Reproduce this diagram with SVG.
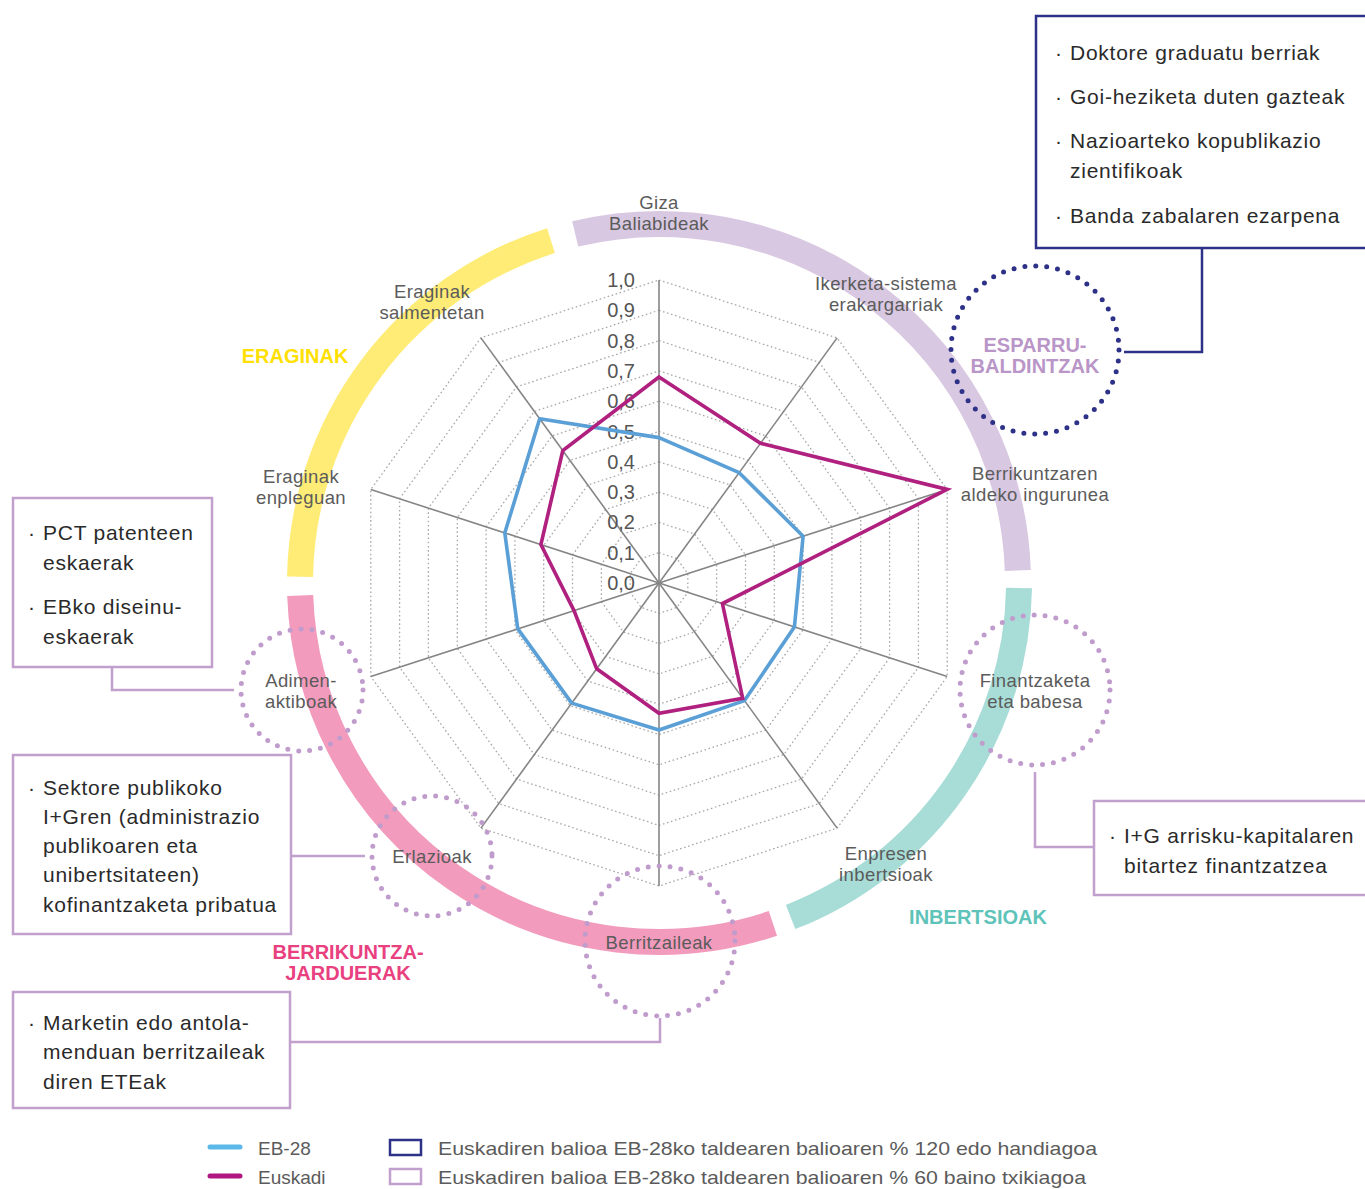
<svg xmlns="http://www.w3.org/2000/svg" width="1365" height="1189" viewBox="0 0 1365 1189">
<style>
.grid{fill:none;stroke:#a8a8a8;stroke-width:1.3;stroke-dasharray:1.6 2.6}
.axis{stroke:#858585;stroke-width:1.6}
.ring{fill:none;stroke-width:26}
.lbl{font-family:"Liberation Sans",Arial,sans-serif;font-size:18.5px;fill:#5b5b5b;text-anchor:middle;letter-spacing:0.4px}
.num{font-family:"Liberation Sans",Arial,sans-serif;font-size:20px;fill:#555;text-anchor:end}
.cat{font-family:"Liberation Sans",Arial,sans-serif;font-size:20px;font-weight:bold;text-anchor:middle}
.box{font-family:"Liberation Sans",Arial,sans-serif;font-size:21px;fill:#2a2a2a;letter-spacing:0.75px}
.leg{font-family:"Liberation Sans",Arial,sans-serif;font-size:19px;fill:#5b5b5b}
.pbox{fill:#fff;stroke:#c1a0cd;stroke-width:2.5}
.bbox{fill:#fff;stroke:#2e3188;stroke-width:2.5}
.pcon{fill:none;stroke:#c1a0cd;stroke-width:2.5}
.bcon{fill:none;stroke:#2e3188;stroke-width:2.5}
.pdots{fill:none;stroke:#c09ccd;stroke-width:5;stroke-linecap:round;stroke-dasharray:0 11}
.bdots{fill:none;stroke:#2e3188;stroke-width:5;stroke-linecap:round;stroke-dasharray:0 11}
</style>

<g id="rings">
<path class="ring" stroke="#ffec76" d="M300.05,576.7 A359,359 0 0 1 551,240.6"/>
<path class="ring" stroke="#d9c8e1" d="M575.2,233.9 A359,359 0 0 1 1017.8,570.5"/>
<path class="ring" stroke="#a8ddd7" d="M1019,588 A359,359 0 0 1 790.6,917"/>
<path class="ring" stroke="#f29bbd" d="M772.9,923.4 A359,359 0 0 1 300.2,595.5"/>
</g>

<g id="radar-grid">
<polygon class="grid" points="659,552.7 676.8,558.5 687.8,573.6 687.8,592.4 676.8,607.5 659,613.3 641.2,607.5 630.2,592.4 630.2,573.6 641.2,558.5"/>
<polygon class="grid" points="659,522.4 694.6,534 716.6,564.3 716.6,601.7 694.6,632 659,643.6 623.4,632 601.4,601.7 601.4,564.3 623.4,534"/>
<polygon class="grid" points="659,492.1 712.4,509.5 745.5,554.9 745.5,611.1 712.4,656.5 659,673.9 605.6,656.5 572.5,611.1 572.5,554.9 605.6,509.5"/>
<polygon class="grid" points="659,461.8 730.2,485 774.3,545.5 774.3,620.5 730.2,681 659,704.2 587.8,681 543.7,620.5 543.7,545.5 587.8,485"/>
<polygon class="grid" points="659,431.5 748,460.4 803.1,536.2 803.1,629.8 748,705.6 659,734.5 570,705.6 514.9,629.8 514.9,536.2 570,460.4"/>
<polygon class="grid" points="659,401.2 765.9,435.9 831.9,526.8 831.9,639.2 765.9,730.1 659,764.8 552.1,730.1 486.1,639.2 486.1,526.8 552.1,435.9"/>
<polygon class="grid" points="659,370.9 783.7,411.4 860.7,517.5 860.7,648.5 783.7,754.6 659,795.1 534.3,754.6 457.3,648.5 457.3,517.5 534.3,411.4"/>
<polygon class="grid" points="659,340.6 801.5,386.9 889.6,508.1 889.6,657.9 801.5,779.1 659,825.4 516.5,779.1 428.4,657.9 428.4,508.1 516.5,386.9"/>
<polygon class="grid" points="659,310.3 819.3,362.4 918.4,498.7 918.4,667.3 819.3,803.6 659,855.7 498.7,803.6 399.6,667.3 399.6,498.7 498.7,362.4"/>
<polygon class="grid" points="659,280 837.1,337.9 947.2,489.4 947.2,676.6 837.1,828.1 659,886 480.9,828.1 370.8,676.6 370.8,489.4 480.9,337.9"/>
<g class="axis">
<line x1="659" y1="583" x2="659" y2="280"/>
<line x1="659" y1="583" x2="837.1" y2="337.9"/>
<line x1="659" y1="583" x2="947.2" y2="489.4"/>
<line x1="659" y1="583" x2="947.2" y2="676.6"/>
<line x1="659" y1="583" x2="837.1" y2="828.1"/>
<line x1="659" y1="583" x2="659" y2="886"/>
<line x1="659" y1="583" x2="480.9" y2="828.1"/>
<line x1="659" y1="583" x2="370.8" y2="676.6"/>
<line x1="659" y1="583" x2="370.8" y2="489.4"/>
<line x1="659" y1="583" x2="480.9" y2="337.9"/>
</g>
<g id="scale">
<text class="num" x="635" y="287">1,0</text>
<text class="num" x="635" y="317.3">0,9</text>
<text class="num" x="635" y="347.6">0,8</text>
<text class="num" x="635" y="377.9">0,7</text>
<text class="num" x="635" y="408.2">0,6</text>
<text class="num" x="635" y="438.5">0,5</text>
<text class="num" x="635" y="468.8">0,4</text>
<text class="num" x="635" y="499.1">0,3</text>
<text class="num" x="635" y="529.4">0,2</text>
<text class="num" x="635" y="559.7">0,1</text>
<text class="num" x="635" y="590">0,0</text>
</g>
</g>

<g id="series">
<polygon id="eb28" fill="none" stroke="#5a9fd6" stroke-width="3.6" stroke-linejoin="round" points="659,437.6 739.2,472.7 803.1,536.2 794.4,627 744.5,700.6 659,730 571.7,703.1 517.8,628.9 504.8,532.9 539.7,418.8"/>
<polygon id="euskadi" fill="none" stroke="#b0207f" stroke-width="3.6" stroke-linejoin="miter" points="659,377 760.5,443.3 947.2,489.4 722.4,603.6 742.7,698.2 659,713.3 596.7,668.8 574,610.6 540.9,544.6 562.8,450.6"/>
</g>

<g id="axis-labels">
<text class="lbl" x="659" y="209">Giza</text>
<text class="lbl" x="659" y="230">Baliabideak</text>
<text class="lbl" x="886" y="290">Ikerketa-sistema</text>
<text class="lbl" x="886" y="311">erakargarriak</text>
<text class="lbl" x="1035" y="480">Berrikuntzaren</text>
<text class="lbl" x="1035" y="501">aldeko ingurunea</text>
<text class="lbl" x="1035" y="687">Finantzaketa</text>
<text class="lbl" x="1035" y="708">eta babesa</text>
<text class="lbl" x="886" y="860">Enpresen</text>
<text class="lbl" x="886" y="881">inbertsioak</text>
<text class="lbl" x="659" y="949">Berritzaileak</text>
<text class="lbl" x="432" y="863">Erlazioak</text>
<text class="lbl" x="301" y="687">Adimen-</text>
<text class="lbl" x="301" y="708">aktiboak</text>
<text class="lbl" x="301" y="483">Eraginak</text>
<text class="lbl" x="301" y="504">enpleguan</text>
<text class="lbl" x="432" y="298">Eraginak</text>
<text class="lbl" x="432" y="319">salmentetan</text>
</g>

<g id="categories">
<text class="cat" x="295" y="363" fill="#ffe000">ERAGINAK</text>
<text class="cat" x="1035" y="352" fill="#b995c8">ESPARRU-</text>
<text class="cat" x="1035" y="373" fill="#b995c8">BALDINTZAK</text>
<text class="cat" x="978" y="924" fill="#5ec3b8">INBERTSIOAK</text>
<text class="cat" x="348" y="959" fill="#e9407f">BERRIKUNTZA-</text>
<text class="cat" x="348" y="980" fill="#e9407f">JARDUERAK</text>
</g>

<g id="connectors">
<polyline class="bcon" points="1202,248 1202,352 1124,352"/>
<polyline class="pcon" points="112,667 112,690 234,690"/>
<polyline class="pcon" points="291,856 365,856"/>
<polyline class="pcon" points="290,1042 660,1042 660,1018"/>
<polyline class="pcon" points="1094,847 1035,847 1035,772"/>
</g>

<g id="circle-esparru"><circle class="bdots" cx="1035" cy="350" r="84"/></g>
<g id="circle-finantzaketa"><circle class="pdots" cx="1035" cy="690" r="75"/></g>
<g id="circle-adimen"><circle class="pdots" cx="302" cy="690" r="61"/></g>
<g id="circle-erlazioak"><circle class="pdots" cx="432" cy="856" r="60"/></g>
<g id="circle-berritzaileak"><circle class="pdots" cx="660" cy="941" r="75"/></g>

<g id="box-esparru">
<rect class="bbox" x="1036" y="16" width="345" height="232"/>
<text class="box" x="1055" y="60">·</text><text class="box" x="1070" y="60">Doktore graduatu berriak</text>
<text class="box" x="1055" y="104">·</text><text class="box" x="1070" y="104">Goi-heziketa duten gazteak</text>
<text class="box" x="1055" y="148">·</text><text class="box" x="1070" y="148">Nazioarteko kopublikazio</text>
<text class="box" x="1070" y="178">zientifikoak</text>
<text class="box" x="1055" y="223">·</text><text class="box" x="1070" y="223">Banda zabalaren ezarpena</text>
</g>

<g id="box-adimen">
<rect class="pbox" x="13" y="498" width="199" height="169"/>
<text class="box" x="28" y="540">·</text><text class="box" x="43" y="540">PCT patenteen</text>
<text class="box" x="43" y="570">eskaerak</text>
<text class="box" x="28" y="614">·</text><text class="box" x="43" y="614">EBko diseinu-</text>
<text class="box" x="43" y="644">eskaerak</text>
</g>

<g id="box-erlazioak">
<rect class="pbox" x="13" y="755" width="278" height="179"/>
<text class="box" x="28" y="795">·</text><text class="box" x="43" y="795">Sektore publikoko</text>
<text class="box" x="43" y="824">I+Gren (administrazio</text>
<text class="box" x="43" y="853">publikoaren eta</text>
<text class="box" x="43" y="882">unibertsitateen)</text>
<text class="box" x="43" y="912" textLength="234" lengthAdjust="spacing">kofinantzaketa pribatua</text>
</g>

<g id="box-berritzaileak">
<rect class="pbox" x="13" y="992" width="277" height="116"/>
<text class="box" x="28" y="1030">·</text><text class="box" x="43" y="1030">Marketin edo antola-</text>
<text class="box" x="43" y="1059">menduan berritzaileak</text>
<text class="box" x="43" y="1089">diren ETEak</text>
</g>

<g id="box-finantzaketa">
<rect class="pbox" x="1094" y="801" width="290" height="94"/>
<text class="box" x="1109" y="843">·</text><text class="box" x="1124" y="843">I+G arrisku-kapitalaren</text>
<text class="box" x="1124" y="873">bitartez finantzatzea</text>
</g>

<g id="legend">
<line x1="210" y1="1147" x2="240" y2="1147" stroke="#5cb8e8" stroke-width="5" stroke-linecap="round"/>
<text class="leg" x="258" y="1155">EB-28</text>
<line x1="210" y1="1176" x2="240" y2="1176" stroke="#b0177f" stroke-width="5" stroke-linecap="round"/>
<text class="leg" x="258" y="1184">Euskadi</text>
<rect x="390" y="1140" width="31" height="15" fill="#fff" stroke="#2e3188" stroke-width="2.5"/>
<text class="leg" x="438" y="1155" textLength="659" lengthAdjust="spacingAndGlyphs">Euskadiren balioa EB-28ko taldearen balioaren % 120 edo handiagoa</text>
<rect x="390" y="1169" width="31" height="15" fill="#fff" stroke="#c1a0cd" stroke-width="2.5"/>
<text class="leg" x="438" y="1184" textLength="648" lengthAdjust="spacingAndGlyphs">Euskadiren balioa EB-28ko taldearen balioaren % 60 baino txikiagoa</text>
</g>
</svg>
